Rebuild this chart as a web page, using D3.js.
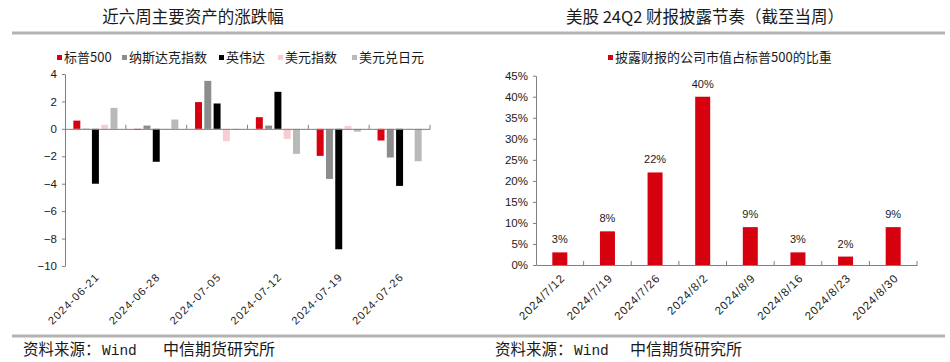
<!DOCTYPE html>
<html><head><meta charset="utf-8">
<script src="https://cdn.jsdelivr.net/npm/d3@7"></script>
<style>
body{margin:0;background:#fff;}
svg{display:block;font-family:"Liberation Sans","Noto Sans CJK SC",sans-serif;}
.cjk{font-family:"Noto Sans CJK SC","Liberation Sans",sans-serif;}
</style></head>
<body><svg id="c" width="950" height="362"></svg>
<script>
// ---------- Left chart data ----------
const weeks = ["2024-06-21","2024-06-28","2024-07-05","2024-07-12","2024-07-19","2024-07-26"];
const seriesNames = ["标普500","纳斯达克指数","英伟达","美元指数","美元兑日元"];
const spx    = [0.60, -0.08, 1.95, 0.85, -1.97, -0.85];
const nasdaq = [0.02, 0.24, 3.50, 0.24, -3.65, -2.09];
const nvda   = [-4.00, -2.40, 1.85, 2.70, -8.78, -4.16];
const dxy    = [0.30, 0.02, -0.90, -0.73, 0.22, 0.02];
const usdjpy = [1.53, 0.68, -0.08, -1.82, -0.20, -2.36];
const leftTicks = [4,2,0,-2,-4,-6,-8,-10];
const seriesColors = ["#d7000f","#8c8c8c","#000000","#f7cdd0","#b9b9b9"];

// ---------- Right chart data ----------
const dates = ["2024/7/12","2024/7/19","2024/7/26","2024/8/2","2024/8/9","2024/8/16","2024/8/23","2024/8/30"];
const share = [0.03, 0.08, 0.22, 0.40, 0.09, 0.03, 0.02, 0.09];
const shareLabels = ["3%","8%","22%","40%","9%","3%","2%","9%"];
const rightTicks = [0,0.05,0.10,0.15,0.20,0.25,0.30,0.35,0.40,0.45];

const svg = d3.select("#c");
const axisColor = "#7f7f7f";
const textColor = "#1a1a1a";

// rules
[33, 336].forEach(y => svg.append("line").attr("x1",12).attr("x2",945).attr("y1",y).attr("y2",y)
  .attr("stroke","#b3b3b3").attr("stroke-width",3));

// titles
svg.append("text").attr("class","cjk").attr("x",193).attr("y",23).attr("text-anchor","middle")
  .attr("font-size",16.5).attr("fill",textColor).text("近六周主要资产的涨跌幅");
svg.append("text").attr("class","cjk").attr("x",705).attr("y",23).attr("text-anchor","middle")
  .attr("font-size",16.5).attr("fill",textColor).text("美股 24Q2 财报披露节奏（截至当周）");

// footers
function footer(x, off){
  const t = svg.append("text").attr("y",355).attr("fill",textColor);
  t.append("tspan").attr("class","cjk").attr("x",x).attr("font-size",15.5).text("资料来源：");
  t.append("tspan").attr("x",x+79).attr("font-family","Liberation Mono, DejaVu Sans Mono, monospace").attr("font-size",14.5).text("Wind");
  t.append("tspan").attr("class","cjk").attr("x",x+off).attr("font-size",16).text("中信期货研究所");
}
footer(23,140); footer(495,135);

// ---------- Left chart ----------
const allSeries = [spx, nasdaq, nvda, dxy, usdjpy];
const xL = d3.scaleBand().domain(weeks).range([65,430]);
const x1 = d3.scaleBand().domain(seriesNames).range([0,xL.bandwidth()]).paddingInner(0.25).paddingOuter(0.9);
const yL = d3.scaleLinear().domain([-10,4]).range([266,74]);

const gL = svg.append("g");
seriesNames.forEach((s,si) => {
  gL.append("g").selectAll("rect").data(weeks).join("rect")
    .attr("x", d => xL(d) + x1(s))
    .attr("width", x1.bandwidth())
    .attr("y", (d,i) => yL(Math.max(0, allSeries[si][i])))
    .attr("height", (d,i) => Math.abs(yL(allSeries[si][i]) - yL(0)))
    .attr("fill", seriesColors[si]);
});
// y axis
const yAxL = svg.append("g").attr("transform","translate(65,0)")
  .call(d3.axisLeft(yL).tickValues(leftTicks).tickSize(3).tickSizeOuter(0).tickFormat(d3.format("d")));
yAxL.select(".domain").attr("stroke",axisColor);
yAxL.selectAll(".tick line").attr("stroke",axisColor);
yAxL.selectAll("text").attr("font-size",11.5).attr("fill",textColor).attr("x",-8);
// x axis line at zero
const xAxL = svg.append("g").attr("transform",`translate(0,${yL(0)})`)
  .call(d3.axisBottom(xL).tickValues([]).tickSizeOuter(0));
xAxL.select(".domain").attr("stroke",axisColor);
const bndL = weeks.map(w => xL(w)).concat([xL.range()[1]]).slice(1);
svg.append("g").selectAll("line").data(bndL).join("line")
  .attr("x1",d=>d).attr("x2",d=>d).attr("y1",yL(0)).attr("y2",yL(0)-4).attr("stroke",axisColor);
// x labels
svg.append("g").selectAll("text").data(weeks).join("text")
  .attr("transform", d => `translate(${xL(d)+xL.bandwidth()/2+2},${275}) rotate(-45)`)
  .attr("text-anchor","end").attr("dy","0.35em").attr("font-size",11).attr("letter-spacing",1.1)
  .attr("fill",textColor).text(d=>d);
// legend
const legX = [57,122,219,278,352];
const leg = svg.append("g");
seriesNames.forEach((s,i) => {
  leg.append("rect").attr("x",legX[i]).attr("y",55).attr("width",5).attr("height",5).attr("fill",seriesColors[i]);
  leg.append("text").attr("class","cjk").attr("x",legX[i]+7).attr("y",62).attr("font-size",13).attr("fill",textColor).text(s);
});

// ---------- Right chart ----------
const xR = d3.scaleBand().domain(dates).range([536,917]).paddingInner(0.685).paddingOuter(0.3425);
const yR = d3.scaleLinear().domain([0,0.45]).range([265,75.7]);
svg.append("g").selectAll("rect").data(dates).join("rect")
  .attr("x", d => xR(d)).attr("width", xR.bandwidth())
  .attr("y", (d,i) => yR(share[i])).attr("height", (d,i) => yR(0)-yR(share[i]))
  .attr("fill","#d7000f");
svg.append("g").selectAll("text").data(dates).join("text")
  .attr("x", d => xR(d)+xR.bandwidth()/2).attr("y",(d,i)=>yR(share[i])-9)
  .attr("text-anchor","middle").attr("font-size",11).attr("fill",textColor).text((d,i)=>shareLabels[i]);
const yAxR = svg.append("g").attr("transform","translate(536,0)")
  .call(d3.axisLeft(yR).tickValues(rightTicks).tickSize(3).tickSizeOuter(0).tickFormat(d3.format(".0%")));
yAxR.select(".domain").attr("stroke",axisColor);
yAxR.selectAll(".tick line").attr("stroke",axisColor);
yAxR.selectAll("text").attr("font-size",11.5).attr("fill",textColor).attr("x",-8);
const xAxR = svg.append("g").attr("transform",`translate(0,${yR(0)})`)
  .call(d3.axisBottom(xR).tickValues([]).tickSizeOuter(0));
xAxR.select(".domain").attr("stroke",axisColor);
const stepR = xR.step();
const bndR = dates.map((d,i) => 536 + stepR*(i+1));
svg.append("g").selectAll("line").data(bndR).join("line")
  .attr("x1",d=>d).attr("x2",d=>d).attr("y1",yR(0)).attr("y2",yR(0)-4).attr("stroke",axisColor);
svg.append("g").selectAll("text").data(dates).join("text")
  .attr("transform", d => `translate(${xR(d)+xR.bandwidth()/2+3},${276}) rotate(-45)`)
  .attr("text-anchor","end").attr("dy","0.35em").attr("font-size",11.5).attr("letter-spacing",0.9)
  .attr("fill",textColor).text(d=>d);
// legend
svg.append("rect").attr("x",608).attr("y",55).attr("width",5).attr("height",5).attr("fill","#d7000f");
svg.append("text").attr("class","cjk").attr("x",615).attr("y",62).attr("font-size",13).attr("fill",textColor)
  .text("披露财报的公司市值占标普500的比重");
</script></body></html>
